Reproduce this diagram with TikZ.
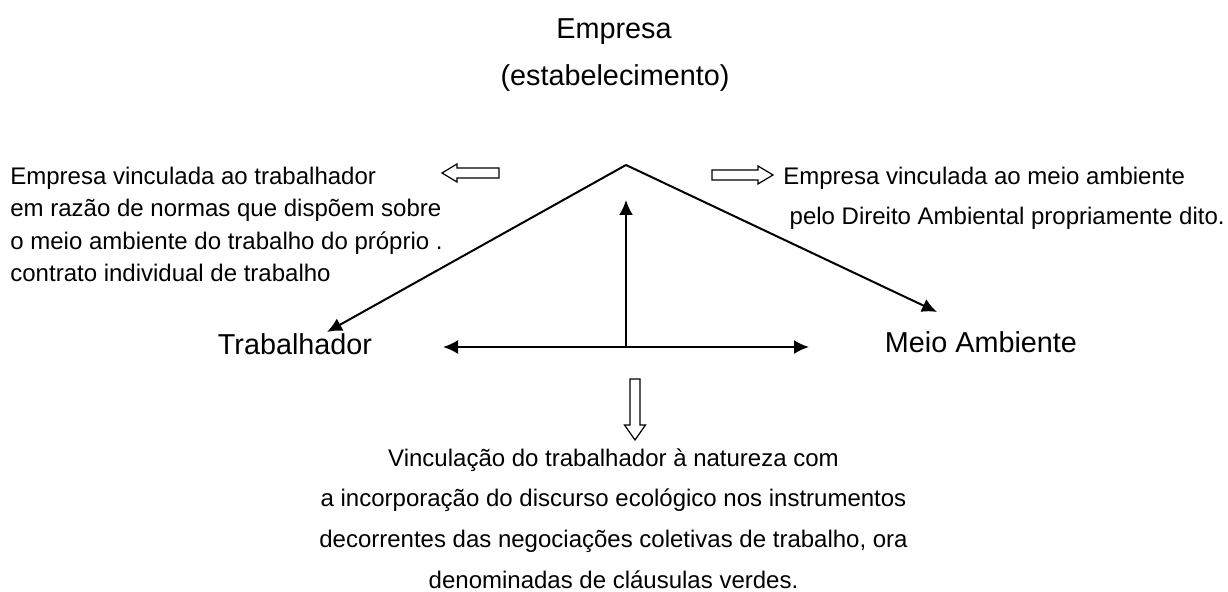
\documentclass[tikz,border=0pt]{standalone}
\usepackage{fontspec}
\setmainfont{Liberation Sans}
\usetikzlibrary{arrows.meta}
\tikzset{>={Latex[length=7.5pt,width=7pt]}}
\tikzset{
  big/.style = {font=\fontsize{14.4}{17}\selectfont, inner sep=0pt},
  small/.style = {font=\fontsize{12}{16.3}\selectfont, inner sep=0pt},
  link/.style = {line width=1pt},
  hollow/.style = {draw, line width=0.6pt, line join=miter}
}

\begin{document}
\begin{tikzpicture}[x=0.5pt,y=-0.5pt]
  \useasboundingbox (0,0) rectangle (1228,592);
  % titles
  \node[big] (empresa) at (614,32) {Empresa};
  \node[big] (estab) at (615,78) {(estabelecimento)};
  \node[big] (trab) at (295,344) {Trabalhador};
  \node[big] (meio) at (981,342) {Meio Ambiente};
  % triangle
  \coordinate (apex) at (626,165);
  \coordinate (ptrab) at (327,332);
  \coordinate (pmeio) at (937,312);
  \coordinate (base) at (626,347);
  \coordinate (topo) at (626,200);
  \coordinate (hesq) at (443,347);
  \coordinate (hdir) at (809,347);
  \draw[link,->] (apex) -- (ptrab);
  \draw[link,->] (apex) -- (pmeio);
  \draw[link,->] (base) -- (topo);
  \draw[link,<->] (hesq) -- (hdir);
  % hollow arrows
  \draw[hollow] (499,168) -- (457,168) -- (457,164) -- (442,173) -- (457,182)
    -- (457,178) -- (499,178) -- cycle;
  \draw[hollow] (712,170) -- (758,170) -- (758,166) -- (773,175) -- (758,184)
    -- (758,180) -- (712,180) -- cycle;
  \draw[hollow] (630,379) -- (640,379) -- (640,425) -- (645.5,425) -- (635,440)
    -- (624.5,425) -- (630,425) -- cycle;
  % texts
  \node[small, align=left, anchor=west] (txtesq) at (10,224.5)
    {Empresa vinculada ao trabalhador\\
     em razão de normas que dispõem sobre\\
     o meio ambiente do trabalho do próprio .\\
     contrato individual de trabalho};
  \node[small, anchor=west] (txtdir1) at (783,178) {Empresa vinculada ao meio ambiente};
  \node[small, anchor=east] (txtdir2) at (1225,218) {pelo Direito Ambiental propriamente dito.};
  \node[small, align=center, font=\fontsize{12}{20.3}\selectfont] (txtbaixo) at (613.5,518.5)
    {Vinculação do trabalhador à natureza com\\
     a incorporação do discurso ecológico nos instrumentos\\
     decorrentes das negociações coletivas de trabalho, ora\\
     denominadas de cláusulas verdes.};
\end{tikzpicture}
\end{document}
